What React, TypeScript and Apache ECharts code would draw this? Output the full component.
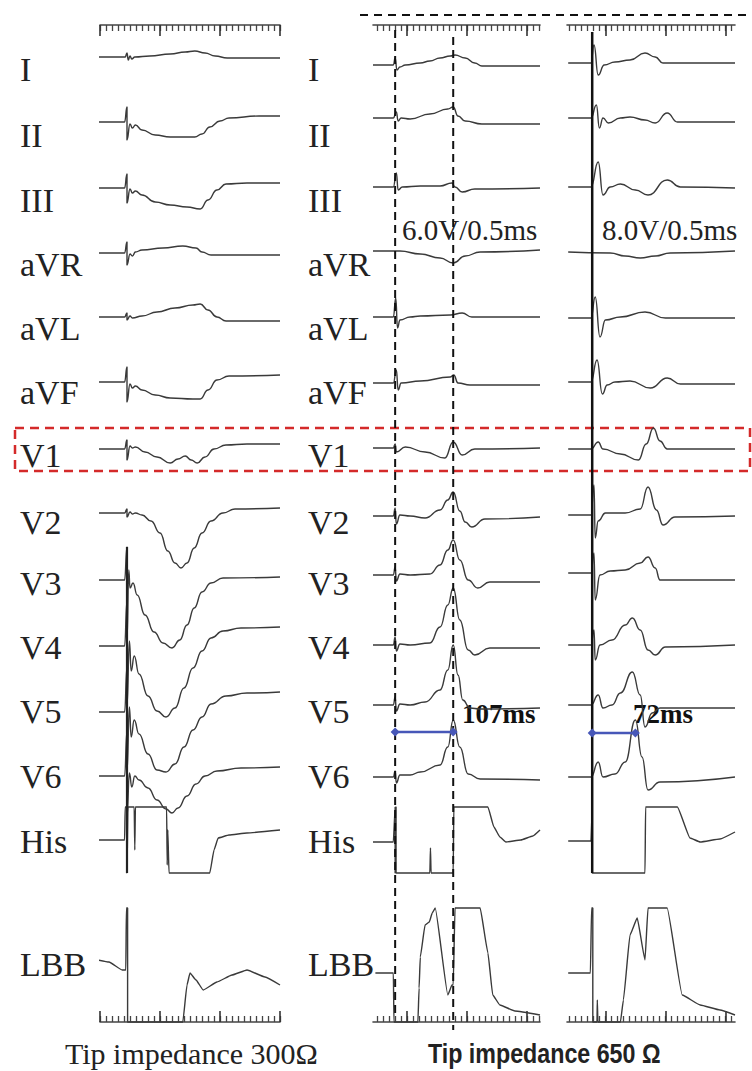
import React, { useEffect, useRef } from "react";
import * as echarts from "echarts";

type Pt = [number, number];

// ---- categories ----
const LEADS = ["I", "II", "III", "aVR", "aVL", "aVF", "V1", "V2", "V3", "V4", "V5", "V6", "His", "LBB"];
const CAPTIONS = ["Tip impedance 300Ω", "Tip impedance 650 Ω"];
const OUTPUT_LABELS = ["6.0V/0.5ms", "8.0V/0.5ms"];
const INTERVAL_LABELS = ["107ms", "72ms"];
const INTERVAL_END_MS = [97, 72]; // end of stim-to-peak interval, ms after stimulus

// ---- traces: [ms after pacing stimulus, amplitude] ----
// Panel 1: tip impedance 300Ω
const P1_I: Pt[] = [[-48,0],[-3,0],[0,4],[2,-3],[5,1],[8,-2],[13,0],[38,1],[72,3],[97,5],[113,6],[130,4],[147,1],[167,-1],[205,-1],[255,-1]];
const P1_II: Pt[] = [[-48,0],[-4,0],[0,15],[0,-18],[5,-2],[9,-6],[14,-3],[25,-8],[47,-13],[72,-15],[113,-15],[125,-12],[138,-5],[155,1],[170,4],[220,6],[255,6]];
const P1_III: Pt[] = [[-48,0],[-4,0],[0,14],[0,-15],[5,-1],[9,-5],[14,-3],[25,-7],[47,-14],[72,-17],[100,-19],[122,-21],[135,-12],[150,-2],[165,4],[200,5],[255,5]];
const P1_AVR: Pt[] = [[-48,0],[-4,0],[0,11],[0,-12],[5,-1],[9,-3],[14,1],[25,3],[60,5],[93,7],[115,5],[125,1],[140,-2],[255,-2]];
const P1_AVL: Pt[] = [[-48,0],[-4,0],[0,4],[0,-3],[5,1],[9,-1],[25,1],[50,5],[80,9],[110,12],[122,13],[135,7],[150,0],[165,-4],[255,-4]];
const P1_AVF: Pt[] = [[-48,0],[-4,0],[0,15],[0,-20],[5,-2],[9,-6],[14,-4],[25,-8],[47,-13],[72,-16],[110,-17],[122,-17],[135,-8],[150,2],[170,6],[255,7]];
const P1_V1: Pt[] = [[-48,0],[-4,0],[0,9],[0,-11],[5,3],[9,1],[14,2],[30,-3],[50,-8],[72,-14],[85,-10],[97,-7],[107,-11],[117,-14],[130,-8],[145,0],[165,4],[200,5],[255,5]];
const P1_V2: Pt[] = [[-48,0],[-4,0],[0,4],[0,-4],[5,1],[9,-1],[14,0],[25,-2],[40,-8],[55,-20],[68,-38],[80,-50],[90,-55],[100,-50],[112,-35],[125,-20],[140,-8],[160,0],[180,4],[255,5]];
const P1_V3: Pt[] = [[-48,0],[-4,0],[0,33],[0,-60],[3,10],[5,-8],[10,-3],[17,-15],[30,-35],[45,-52],[60,-63],[75,-68],[88,-60],[100,-45],[112,-28],[125,-12],[140,-3],[160,2],[255,3]];
const P1_V4: Pt[] = [[-48,0],[-4,0],[0,45],[0,-60],[4,5],[7,-25],[12,-10],[20,-28],[35,-50],[50,-65],[65,-71],[80,-62],[95,-42],[110,-22],[125,-5],[140,8],[160,15],[190,18],[255,19]];
const P1_V5: Pt[] = [[-48,0],[-4,0],[0,45],[0,-60],[4,5],[7,-25],[12,-8],[20,-22],[35,-42],[50,-58],[65,-60],[80,-52],[95,-35],[110,-18],[125,-5],[140,8],[165,16],[200,19],[255,20]];
const P1_V6: Pt[] = [[-48,0],[-4,0],[0,45],[0,-40],[4,3],[8,-11],[13,0],[20,-4],[35,-12],[50,-24],[65,-33],[75,-37],[85,-32],[100,-20],[115,-8],[130,0],[150,5],[190,8],[255,9]];
const P1_HIS: Pt[] = [[-48,0],[-4,0],[-3,33],[0,33],[0,-33],[1.5,33],[12,33],[13,-10],[14,33],[63,33],[66,33],[67,-25],[68,10],[70,-33],[138,-33],[145,-10],[152,2],[170,5],[200,7],[255,10]];
const P1_LBB: Pt[] = [[-48,5],[-30,3],[-8,-5],[-2,-5],[-1,57],[1,57],[1,-57],[93,-57],[100,-20],[105,-8],[115,-15],[127,-25],[150,-17],[175,-10],[200,-5],[230,-12],[255,-20]];

// Panel 2: tip impedance 650Ω, 6.0V/0.5ms
const P2_I: Pt[] = [[-37,0],[-3,0],[0,7],[3,-5],[8,-2],[17,0],[42,2],[58,4],[75,7],[92,9],[100,10],[117,7],[133,2],[145,-1],[242,-1]];
const P2_II: Pt[] = [[-37,0],[-3,0],[2,6],[5,-3],[10,0],[25,-1],[58,4],[88,9],[97,11],[105,2],[117,-3],[145,-6],[242,-6]];
const P2_III: Pt[] = [[-37,0],[-3,0],[2,14],[5,-3],[12,0],[42,1],[75,1],[95,4],[100,0],[112,-5],[133,-2],[242,-1]];
const P2_AVR: Pt[] = [[-37,0],[8,0],[42,-3],[75,-7],[97,-12],[117,-5],[142,-1],[242,1]];
const P2_AVL: Pt[] = [[-37,0],[-3,0],[1,19],[4,-11],[8,-3],[25,0],[42,1],[92,2],[112,4],[128,0],[242,0]];
const P2_AVF: Pt[] = [[-37,0],[-3,0],[2,13],[5,-7],[10,0],[42,2],[92,6],[98,8],[105,0],[125,-2],[242,-2]];
const P2_V1: Pt[] = [[-37,0],[-3,0],[0,4],[2,-4],[17,1],[50,-4],[83,-10],[97,6],[112,-7],[133,-1],[242,0]];
const P2_V2: Pt[] = [[-37,0],[-3,0],[0,8],[2,-8],[8,1],[25,0],[50,-2],[75,6],[88,16],[97,24],[108,5],[117,-6],[128,-11],[150,-3],[242,-1]];
const P2_V3: Pt[] = [[-37,0],[-3,0],[0,8],[2,-6],[8,1],[25,0],[58,1],[75,10],[88,25],[97,35],[108,15],[122,-5],[138,-13],[158,-7],[242,-7]];
const P2_V4: Pt[] = [[-37,0],[-3,0],[0,8],[2,-6],[8,1],[25,0],[58,2],[75,18],[88,40],[97,57],[108,25],[122,-5],[133,-10],[158,-3],[242,-3]];
const P2_V5: Pt[] = [[-37,0],[-3,0],[0,8],[2,-6],[8,1],[25,0],[50,3],[75,15],[88,35],[97,60],[105,30],[113,5],[125,-3],[142,-4],[242,-3]];
const P2_V6: Pt[] = [[-37,0],[-3,0],[0,6],[2,-6],[8,2],[25,2],[42,5],[75,12],[88,30],[97,57],[108,30],[122,3],[142,-2],[242,-3]];
const P2_HIS: Pt[] = [[-37,0],[-3,0],[0,35],[0,-31],[1.5,35],[1.5,-31],[58,-31],[59,-6],[60,-31],[97,-31],[98,35],[155,35],[165,15],[175,5],[185,0],[210,2],[230,6],[242,12]];
const P2_LBB: Pt[] = [[-33,0],[-3,0],[-2,-49],[38,-49],[40,-15],[42,16],[50,48],[57,51],[62,60],[67,65],[88,-22],[95,-12],[97,-12],[100,65],[142,65],[155,20],[163,-22],[175,-32],[200,-38],[242,-42]];

// Panel 3: tip impedance 650Ω, 8.0V/0.5ms
const P3_I: Pt[] = [[-40,0],[-2,0],[3,18],[10,-12],[20,-2],[38,1],[63,3],[88,10],[105,6],[118,0],[238,0]];
const P3_II: Pt[] = [[-40,0],[-2,0],[7,13],[12,-10],[18,0],[27,-5],[47,0],[63,1],[88,-2],[105,-5],[125,5],[142,-4],[163,-4],[238,-4]];
const P3_III: Pt[] = [[-40,0],[-2,0],[10,25],[18,-8],[30,0],[47,3],[72,-3],[93,-8],[125,7],[147,0],[238,-1]];
const P3_AVR: Pt[] = [[-40,0],[30,-1],[55,-4],[80,-6],[105,-4],[130,-1],[238,1]];
const P3_AVL: Pt[] = [[-40,0],[-2,0],[5,21],[13,-19],[22,-2],[47,1],[88,6],[122,0],[238,0]];
const P3_AVF: Pt[] = [[-40,0],[-2,0],[8,22],[17,-12],[25,-3],[38,0],[63,1],[97,-6],[125,4],[147,-2],[238,-2]];
const P3_V1: Pt[] = [[-40,0],[-2,0],[10,7],[18,0],[47,-5],[77,-11],[90,5],[102,21],[113,8],[125,0],[238,0]];
const P3_V2: Pt[] = [[-40,0],[-2,0],[3,30],[5,-23],[10,-6],[22,2],[55,2],[80,6],[93,28],[107,5],[118,-10],[138,-2],[238,-1]];
const P3_V3: Pt[] = [[-40,0],[-2,0],[3,20],[5,-27],[13,-2],[30,2],[55,3],[80,10],[93,16],[105,5],[113,-7],[238,-7]];
const P3_V4: Pt[] = [[-40,0],[-2,0],[3,15],[5,-15],[13,0],[33,5],[55,20],[67,27],[80,15],[93,-5],[105,-10],[122,-2],[238,0]];
const P3_V5: Pt[] = [[-40,0],[-2,0],[10,10],[18,-3],[33,0],[47,12],[67,33],[80,10],[88,-22],[100,-8],[113,-3],[238,-3]];
const P3_V6: Pt[] = [[-40,0],[-2,0],[10,15],[18,0],[38,3],[55,15],[72,57],[83,20],[93,-13],[113,-5],[238,0]];
const P3_HIS: Pt[] = [[-40,0],[-2,0],[0,32],[0,-32],[88,-32],[89,34],[142,34],[163,3],[180,-1],[213,2],[238,9]];
const P3_LBB: Pt[] = [[-40,0],[-3,0],[-1,65],[1,65],[1,-49],[8,-49],[8.5,-27],[9.5,-49],[47,-49],[52,-27],[63,38],[75,55],[88,13],[93,65],[125,65],[150,-22],[180,-32],[213,-37],[238,-42]];

const P1 = [P1_I, P1_II, P1_III, P1_AVR, P1_AVL, P1_AVF, P1_V1, P1_V2, P1_V3, P1_V4, P1_V5, P1_V6, P1_HIS, P1_LBB];
const P2 = [P2_I, P2_II, P2_III, P2_AVR, P2_AVL, P2_AVF, P2_V1, P2_V2, P2_V3, P2_V4, P2_V5, P2_V6, P2_HIS, P2_LBB];
const P3 = [P3_I, P3_II, P3_III, P3_AVR, P3_AVL, P3_AVF, P3_V1, P3_V2, P3_V3, P3_V4, P3_V5, P3_V6, P3_HIS, P3_LBB];

// ---- layout (vertical trace offsets, px from top) ----
const BASE1 = [57, 122, 188, 253, 317, 382, 449, 513, 580, 646, 712, 776, 840, 965];
const BASE2 = [65, 118, 187, 251, 317, 383, 448, 516, 575, 645, 705, 777, 842, 973];
const BASE3 = [63, 118, 187, 252, 318, 382, 449, 515, 573, 645, 705, 777, 841, 973];
const LABEL_Y = [69, 135, 200, 264, 328, 392, 455, 522, 583, 647, 711, 776, 841, 964];
const RULER_TOP = 25;
const RULER_BOTTOM = 1022;

const PANELS = [
  { left: 100, width: 180, min: -45, max: 255, majors: [-45, 55, 155, 255], traces: P1, base: BASE1, labelX: 20 },
  { left: 373, width: 167, min: -37, max: 242, majors: [20, 120, 220], traces: P2, base: BASE2, labelX: 308 },
  { left: 567, width: 168, min: -42, max: 238, majors: [22, 122, 222], traces: P3, base: BASE3, labelX: -1 },
];

const TRACE_COLOR = "#3a3a3a";
const SERIF = "'Liberation Serif', 'Times New Roman', serif";

function minorTicks(p: { min: number; max: number; majors: number[] }) {
  const out: number[] = [];
  const first = p.majors[0] - 10 * Math.floor((p.majors[0] - p.min) / 10);
  for (let v = first; v <= p.max + 0.01; v += 10) out.push(v);
  return out;
}

function buildOption() {
  const grid = PANELS.map((p) => ({ left: p.left, width: p.width, top: RULER_TOP, height: RULER_BOTTOM - RULER_TOP }));
  const tickStyle = { color: "#444", width: 1.3 };
  const xAxis: any[] = [];
  PANELS.forEach((p, i) => {
    const base = {
      type: "value", gridIndex: i, min: p.min, max: p.max,
      axisLabel: { show: false }, splitLine: { show: false },
    };
    const minors = minorTicks(p);
    (["top", "bottom"] as const).forEach((pos) => {
      xAxis.push({ ...base, position: pos, axisLine: { show: true, onZero: false, lineStyle: { color: "#444", width: 1.6 } },
        axisTick: { show: true, inside: true, length: 6, customValues: minors, lineStyle: tickStyle } });
      xAxis.push({ ...base, position: pos, axisLine: { show: false, onZero: false },
        axisTick: { show: true, inside: true, length: 11, customValues: p.majors, lineStyle: { color: "#333", width: 1.6 } } });
    });
  });
  const yAxis = PANELS.map((p, i) => ({ type: "value", gridIndex: i, min: -RULER_BOTTOM, max: -RULER_TOP, show: false }));

  const series: any[] = [];
  PANELS.forEach((p, i) => {
    p.traces.forEach((tr, j) => {
      const intracardiac = j >= 12;
      series.push({
        type: "line", name: `${LEADS[j]}-${i}`, xAxisIndex: i * 4, yAxisIndex: i,
        data: tr.map(([t, a]) => [t, a - p.base[j]]),
        symbol: "none", clip: false, silent: true,
        smooth: intracardiac ? 0.12 : 0.5, smoothMonotone: "x",
        lineStyle: { color: TRACE_COLOR, width: 1.4 },
      });
    });
  });

  // pacing stimulus artefact lines
  series.push({ type: "line", xAxisIndex: 0, yAxisIndex: 0, data: [[0, -547], [0, -873]], symbol: "none", clip: false, silent: true, lineStyle: { color: "#222", width: 2.2 } });
  series.push({ type: "line", xAxisIndex: 8, yAxisIndex: 2, data: [[0, -32], [0, -873]], symbol: "none", clip: false, silent: true, lineStyle: { color: "#111", width: 2.5 } });
  // dashed timing lines in panel 2
  series.push({ type: "line", xAxisIndex: 4, yAxisIndex: 1, data: [[0, -30], [0, -1017]], symbol: "none", clip: false, silent: true, lineStyle: { color: "#111", width: 2, type: [8, 5] } });
  series.push({ type: "line", xAxisIndex: 4, yAxisIndex: 1, data: [[INTERVAL_END_MS[0], -37], [INTERVAL_END_MS[0], -1030]], symbol: "none", clip: false, silent: true, lineStyle: { color: "#111", width: 2, type: [8, 5] } });
  // blue interval markers
  const blue = "#4757b8";
  series.push({ type: "line", xAxisIndex: 4, yAxisIndex: 1, data: [[0, -732], [INTERVAL_END_MS[0], -732]], symbol: "diamond", symbolSize: 9, clip: false, silent: true, itemStyle: { color: blue }, lineStyle: { color: blue, width: 2.5 } });
  series.push({ type: "line", xAxisIndex: 8, yAxisIndex: 2, data: [[0, -733], [INTERVAL_END_MS[1], -733]], symbol: "diamond", symbolSize: 9, clip: false, silent: true, itemStyle: { color: blue }, lineStyle: { color: blue, width: 2.5 } });

  const graphic: any[] = [];
  PANELS.forEach((p) => {
    if (p.labelX < 0) return;
    LEADS.forEach((name, j) => {
      graphic.push({ type: "text", x: p.labelX, y: LABEL_Y[j], silent: true,
        style: { text: name, fill: "#222", font: `34px ${SERIF}`, align: "left", verticalAlign: "middle" } });
    });
  });
  graphic.push({ type: "text", x: 402, y: 230, style: { text: OUTPUT_LABELS[0], fill: "#222", font: `29px ${SERIF}`, verticalAlign: "middle" } });
  graphic.push({ type: "text", x: 602, y: 230, style: { text: OUTPUT_LABELS[1], fill: "#222", font: `29px ${SERIF}`, verticalAlign: "middle" } });
  graphic.push({ type: "text", x: 462, y: 714, style: { text: INTERVAL_LABELS[0], fill: "#111", font: `bold 27px ${SERIF}`, verticalAlign: "middle" } });
  graphic.push({ type: "text", x: 633, y: 714, style: { text: INTERVAL_LABELS[1], fill: "#111", font: `bold 27px ${SERIF}`, verticalAlign: "middle" } });
  graphic.push({ type: "text", x: 65, y: 1053, style: { text: CAPTIONS[0], fill: "#222", font: `30px ${SERIF}`, verticalAlign: "middle" } });
  graphic.push({ type: "text", x: 428, y: 1053, scaleX: 0.83, style: { text: CAPTIONS[1], fill: "#222", font: `bold 28px 'Liberation Sans', Arial, sans-serif`, verticalAlign: "middle" } });
  graphic.push({ type: "line", shape: { x1: 360, y1: 15, x2: 752, y2: 15 }, style: { stroke: "#111", lineWidth: 2, lineDash: [8, 6] } });
  graphic.push({ type: "rect", shape: { x: 15, y: 428, width: 735, height: 43 }, style: { fill: "none", stroke: "#d42a2a", lineWidth: 2.5, lineDash: [9, 6] } });

  return { animation: false, backgroundColor: "#fff", grid, xAxis, yAxis, series, graphic };
}

export default function App() {
  const ref = useRef<HTMLDivElement>(null);
  useEffect(() => {
    document.body.style.margin = "0";
    const chart = echarts.init(ref.current!, undefined, { renderer: "svg" });
    chart.setOption(buildOption() as any);
    return () => chart.dispose();
  }, []);
  return <div ref={ref} style={{ width: 752, height: 1071 }} />;
}
